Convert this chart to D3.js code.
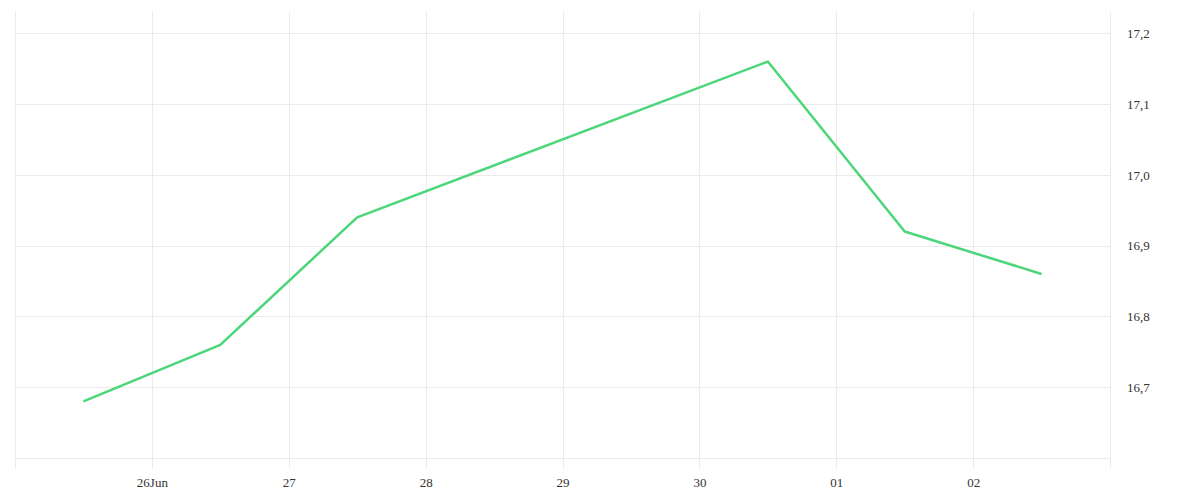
<!DOCTYPE html>
<html>
<head>
<meta charset="utf-8">
<script src="https://cdn.jsdelivr.net/npm/d3@7"></script>
<style>
  html, body { margin: 0; padding: 0; background: #fff; }
  svg { display: block; }
  .tick text { font-family: "Liberation Serif", serif; font-size: 13px; fill: #333; }
</style>
</head>
<body>
<svg id="chart" width="1200" height="500"></svg>
<script>
const dates = ["2024-06-25T12:00", "2024-06-26T12:00", "2024-06-27T12:00", "2024-06-30T12:00", "2024-07-01T12:00", "2024-07-02T12:00"];
const values = [16.68, 16.76, 16.94, 17.16, 16.92, 16.86];
const xTickDates = ["2024-06-26", "2024-06-27", "2024-06-28", "2024-06-29", "2024-06-30", "2024-07-01", "2024-07-02"];
const xTickLabels = ["26Jun", "27", "28", "29", "30", "01", "02"];
const yTicks = [16.6, 16.7, 16.8, 16.9, 17.0, 17.1, 17.2];
const yTickLabels = ["", "16,7", "16,8", "16,9", "17,0", "17,1", "17,2"];
const xDomain = ["2024-06-25", "2024-07-03"];
const yDomain = [16.586, 17.23];

const parse = d3.utcParse("%Y-%m-%dT%H:%M");
const parseDay = d3.utcParse("%Y-%m-%d");
const data = dates.map((d, i) => ({ t: parse(d), v: values[i] }));

const svg = d3.select("#chart");
const mLeft = 15, mRight = 1110, mTop = 12, mBottom = 468;

const x = d3.scaleUtc().domain(xDomain.map(parseDay)).range([mLeft, mRight]);
const y = d3.scaleLinear().domain(yDomain).range([mBottom, mTop]);

const gridColor = "#ebebeb";
const vLines = [parseDay(xDomain[0]), ...xTickDates.map(parseDay), parseDay(xDomain[1])];
svg.append("g").selectAll("line").data(vLines).join("line")
  .attr("x1", d => Math.round(x(d)) + 0.5).attr("x2", d => Math.round(x(d)) + 0.5)
  .attr("y1", mTop).attr("y2", mBottom)
  .attr("stroke", gridColor).attr("stroke-width", 1);

svg.append("g").selectAll("line").data(yTicks).join("line")
  .attr("x1", mLeft).attr("x2", mRight)
  .attr("y1", d => Math.round(y(d)) + 0.5).attr("y2", d => Math.round(y(d)) + 0.5)
  .attr("stroke", gridColor).attr("stroke-width", 1);

const xAxis = d3.axisBottom(x)
  .tickValues(xTickDates.map(parseDay))
  .tickFormat((d, i) => xTickLabels[i])
  .tickSize(0).tickPadding(0);
const gx = svg.append("g").attr("transform", `translate(0, ${mBottom + 10})`).call(xAxis);
gx.select(".domain").remove();

const yAxis = d3.axisRight(y)
  .tickValues(yTicks)
  .tickFormat((d, i) => yTickLabels[i])
  .tickSize(0).tickPadding(0);
const gy = svg.append("g").attr("transform", `translate(${mRight + 17}, 0)`).call(yAxis);
gy.select(".domain").remove();

const line = d3.line().x(d => x(d.t)).y(d => y(d.v));
svg.append("path").datum(data)
  .attr("d", line)
  .attr("fill", "none")
  .attr("stroke", "#4cd67a")
  .attr("stroke-width", 2.5)
  .attr("stroke-linejoin", "round");
</script>
</body>
</html>
